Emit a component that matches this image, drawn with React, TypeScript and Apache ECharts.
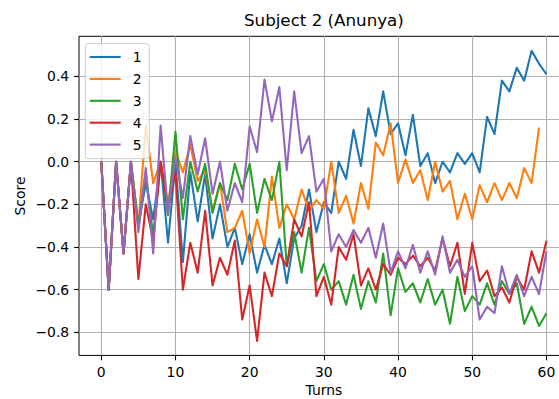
import React, { useEffect, useRef } from "react";
import * as echarts from "echarts";

const seriesNames = ["1", "2", "3", "4", "5"];
const colors = ["#1f77b4", "#ff7f0e", "#2ca02c", "#d62728", "#9467bd"];

const score1 = [
  0, -0.6, 0, -0.43, 0, -0.3, -0.1, -0.27, 0.0, -0.38,
  0.0, -0.47, -0.05, -0.28, -0.06, -0.36, -0.2, -0.4, -0.31, -0.48,
  -0.34, -0.52, -0.39, -0.48, -0.36, -0.57, -0.36, -0.3, -0.13, -0.33,
  -0.19, -0.24, 0.0, -0.08, 0.15, -0.02, 0.25, 0.12, 0.33, 0.13,
  0.18, 0.03, 0.22, -0.02, 0.04, -0.1, 0.0, -0.05, 0.04, -0.01,
  0.04, -0.05, 0.21, 0.13, 0.38, 0.33, 0.44, 0.38, 0.52, 0.46,
  0.41,
];
const score2 = [
  0, -0.6, 0, -0.43, 0, -0.3, 0.17, -0.1, 0.0, -0.2,
  0.05, -0.05, 0.08, -0.09, -0.04, -0.23, -0.1, -0.33, -0.31, -0.23,
  -0.43, -0.27, -0.4, -0.07, -0.31, -0.2, -0.27, -0.13, -0.23, -0.18,
  -0.22, 0.0, -0.24, -0.16, -0.29, -0.1, -0.22, 0.09, 0.03, 0.18,
  -0.1, 0.01, -0.1, -0.04, -0.18, 0.0, -0.14, -0.09, -0.27, -0.15,
  -0.27, -0.11, -0.19, -0.1, -0.18, -0.1, -0.17, -0.03, -0.1, 0.16,
];
const score3 = [
  0, -0.6, 0, -0.43, 0, -0.3, -0.05, -0.35, 0.0, -0.25,
  0.14, -0.27, 0.0, -0.14, -0.01, -0.24, -0.1, -0.18, -0.01, -0.13,
  -0.01, -0.24, -0.08, -0.18, 0.0, -0.49, -0.33, -0.52, -0.31, -0.56,
  -0.48, -0.6, -0.56, -0.67, -0.53, -0.69, -0.56, -0.66, -0.43, -0.72,
  -0.5, -0.61, -0.57, -0.66, -0.55, -0.67, -0.6, -0.76, -0.54, -0.7,
  -0.63, -0.67, -0.57, -0.67, -0.56, -0.62, -0.57, -0.76, -0.68, -0.77,
  -0.71,
];
const score4 = [
  0, -0.6, 0, -0.43, 0, -0.55, -0.2, -0.37, 0.0, -0.22,
  -0.05, -0.6, -0.38, -0.52, -0.23, -0.58, -0.45, -0.53, -0.37, -0.74,
  -0.58, -0.84, -0.52, -0.63, -0.43, -0.49, -0.27, -0.35, -0.19, -0.63,
  -0.54, -0.67, -0.4, -0.46, -0.34, -0.58, -0.5, -0.6, -0.48, -0.53,
  -0.45, -0.48, -0.44, -0.49, -0.45, -0.51, -0.36, -0.49, -0.38, -0.62,
  -0.38, -0.56, -0.51, -0.63, -0.59, -0.66, -0.54, -0.6, -0.42, -0.52,
  -0.37,
];
const score5 = [
  0, -0.6, 0, -0.43, 0, -0.33, -0.03, -0.43, 0.17, -0.24,
  0.02, -0.17, 0.12, -0.06, 0.11, -0.15, 0.0, -0.23, -0.1, -0.19,
  0.165, 0.045, 0.385, 0.19, 0.35, -0.04, 0.33, 0.04, 0.12, -0.14,
  -0.08, -0.42, -0.34, -0.4, -0.32, -0.38, -0.31, -0.45, -0.29, -0.52,
  -0.42, -0.5, -0.39, -0.52, -0.42, -0.53, -0.35, -0.52, -0.46, -0.54,
  -0.49, -0.74, -0.68, -0.71, -0.49, -0.62, -0.53, -0.63, -0.54, -0.62,
  -0.42,
];
const allScores = [score1, score2, score3, score4, score5];

const xTicks = [0, 10, 20, 30, 40, 50, 60];
const yTicks = [-0.8, -0.6, -0.4, -0.2, 0.0, 0.2, 0.4];

const titleText = "Subject 2 (Anunya)";
const xName = "Turns";
const yName = "Score";

const FONT = "DejaVu Sans";

export default function App() {
  const ref = useRef<HTMLDivElement>(null);
  useEffect(() => {
    if (!ref.current) return;
    const chart = echarts.init(ref.current, undefined, { renderer: "svg" });
    const axisLabelBase = {
      fontFamily: FONT,
      fontSize: 13.9,
      color: "#000",
      margin: 9.8,
    };
    const option: any = {
      animation: false,
      backgroundColor: "#ffffff",
      grid: {
        left: 79,
        top: 36.3,
        right: -9.7,
        bottom: 43.6,
        show: true,
        borderColor: "#000",
        borderWidth: 1,
        backgroundColor: "transparent",
        containLabel: false,
        outerBoundsMode: "none",
      },
      xAxis: {
        type: "value",
        min: -3,
        max: 63,
        splitNumber: 6,
        axisLine: { show: false, onZero: false },
        axisTick: {
          show: true,
          length: 4.9,
          lineStyle: { color: "#000", width: 1.1 },
          customValues: xTicks,
        },
        axisLabel: {
          ...axisLabelBase,
          customValues: xTicks,
          formatter: (v: number) => String(Math.round(v)),
        },
        splitLine: { show: true, lineStyle: { color: "#b0b0b0", width: 1.1 } },
      },
      yAxis: {
        type: "value",
        min: -0.908,
        max: 0.588,
        splitNumber: 7,
        axisLine: { show: false, onZero: false },
        axisTick: {
          show: true,
          length: 4.9,
          lineStyle: { color: "#000", width: 1.1 },
          customValues: yTicks,
        },
        axisLabel: {
          ...axisLabelBase,
          customValues: yTicks,
          formatter: (v: number) => v.toFixed(1).replace("-", "\u2212"),
        },
        splitLine: { show: true, lineStyle: { color: "#b0b0b0", width: 1.1 } },
      },
      legend: {
        orient: "vertical",
        left: 85.3,
        top: 43.7,
        padding: [5.3, 7.7, 6, 4.4],
        itemGap: 5.9,
        itemWidth: 31,
        itemHeight: 2.1,
        icon: "rect",
        selectedMode: false,
        backgroundColor: "rgba(255,255,255,0.8)",
        borderColor: "#cccccc",
        borderWidth: 1,
        borderRadius: 3,
        textStyle: {
          fontFamily: FONT,
          fontSize: 13.9,
          color: "#000",
          lineHeight: 16,
          padding: [0, 0, 0, 7],
        },
        data: seriesNames,
      },
      series: allScores.map((arr, k) => ({
        name: seriesNames[k],
        type: "line",
        symbol: "none",
        color: colors[k],
        lineStyle: { width: 2.1, color: colors[k], join: "round" },
        data: arr.map((v, i) => [i, v]),
      })),
      graphic: [
        {
          type: "text",
          x: 323.9,
          y: 20,
          style: {
            text: titleText,
            fontFamily: FONT,
            fontSize: 16.7,
            fill: "#000",
            align: "center",
            verticalAlign: "middle",
            textAlign: "center",
            textVerticalAlign: "middle",
          },
        },
        {
          type: "text",
          x: 20,
          y: 196,
          rotation: Math.PI / 2,
          style: {
            text: yName,
            fontFamily: FONT,
            fontSize: 13.9,
            fill: "#000",
            align: "center",
            verticalAlign: "middle",
            textAlign: "center",
            textVerticalAlign: "middle",
          },
        },
        {
          type: "text",
          x: 323.9,
          y: 390,
          style: {
            text: xName,
            fontFamily: FONT,
            fontSize: 13.9,
            fill: "#000",
            align: "center",
            verticalAlign: "middle",
            textAlign: "center",
            textVerticalAlign: "middle",
          },
        },
      ],
    };
    chart.setOption(option);
    return () => chart.dispose();
  }, []);
  return (
    <div
      ref={ref}
      style={{ position: "fixed", left: 0, top: 0, width: 559, height: 399 }}
    />
  );
}
